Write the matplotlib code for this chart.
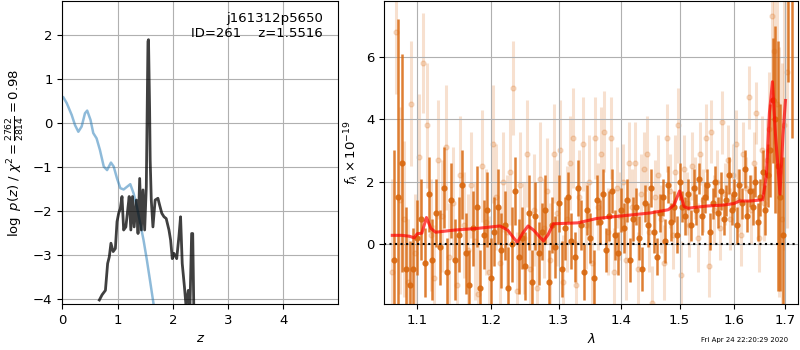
import matplotlib
matplotlib.use('Agg')
import matplotlib.pyplot as plt
from matplotlib.ticker import NullLocator

# ---- p(z) panel data ----
z_chi = [0.02, 0.08, 0.17, 0.23, 0.29, 0.35, 0.41, 0.45, 0.51, 0.56, 0.62, 0.68,
         0.75, 0.81, 0.88, 0.93, 0.99, 1.05, 1.11, 1.17, 1.23, 1.29, 1.35, 1.41,
         1.47, 1.53, 1.59, 1.65, 1.68]
chi_scaled = [0.58, 0.45, 0.18, -0.05, -0.2, -0.08, 0.22, 0.28, 0.07, -0.23, -0.35, -0.61,
              -0.99, -1.07, -0.9, -0.99, -1.26, -1.48, -1.51, -1.45, -1.39, -1.6, -1.9, -2.28,
              -2.66, -3.11, -3.6, -4.1, -4.33]

z_pz = [0.67, 0.72, 0.78, 0.82, 0.85, 0.88, 0.92, 0.96, 0.99, 1.02, 1.05, 1.08,
        1.11, 1.15, 1.19, 1.21, 1.24, 1.27, 1.30, 1.34, 1.37, 1.40, 1.43, 1.46,
        1.49, 1.52, 1.55, 1.56, 1.58, 1.59, 1.61, 1.64, 1.68, 1.73, 1.76, 1.80,
        1.84, 1.88, 1.93, 1.96, 1.99, 2.02, 2.07, 2.11, 2.14, 2.17, 2.21, 2.24,
        2.28, 2.31, 2.34, 2.36, 2.38]
log_pz = [-4.02, -3.9, -3.8, -3.19, -3.04, -2.73, -2.92, -2.85, -2.24, -2.05, -1.94, -1.67,
          -2.43, -2.36, -1.9, -1.67, -2.43, -1.67, -2.36, -1.75, -2.51, -1.26, -2.43, -1.52,
          -2.43, -1.45, 1.85, 1.89, 0.3, -0.84, -1.75, -2.36, -1.75, -1.71, -1.86, -2.05,
          -2.13, -2.17, -2.43, -2.66, -3.08, -2.96, -3.08, -2.58, -2.13, -3.19, -3.72, -4.17,
          -3.8, -4.17, -2.51, -2.51, -4.25]

# ---- spectrum panel data (wavelength in micron, flux in 1e-19) ----
dark_wave = [1.070, 1.075, 1.080, 1.085, 1.090, 1.095, 1.100, 1.105, 1.110, 1.115,
             1.120, 1.125, 1.130, 1.135, 1.140, 1.145, 1.150, 1.155, 1.160, 1.165,
             1.170, 1.175, 1.180, 1.185, 1.190, 1.195, 1.200, 1.205, 1.210, 1.215,
             1.220, 1.225, 1.230, 1.235, 1.240, 1.245, 1.250, 1.255, 1.260, 1.265,
             1.270, 1.275, 1.280, 1.285, 1.290, 1.295, 1.300, 1.305, 1.310, 1.315,
             1.320, 1.325, 1.330, 1.335, 1.340, 1.345, 1.350, 1.355, 1.360, 1.365,
             1.370, 1.375, 1.380, 1.385, 1.390, 1.395, 1.400, 1.405, 1.410, 1.415,
             1.420, 1.425, 1.430, 1.435, 1.440, 1.445, 1.450, 1.455, 1.460, 1.465,
             1.470, 1.475, 1.480, 1.485, 1.490, 1.495, 1.500, 1.505, 1.510, 1.515,
             1.520, 1.525, 1.530, 1.535, 1.540, 1.545, 1.550, 1.555, 1.560, 1.565,
             1.570, 1.575, 1.580, 1.585, 1.590, 1.595, 1.600, 1.605, 1.610, 1.615,
             1.620, 1.625, 1.630, 1.635, 1.640, 1.645, 1.650, 1.655, 1.660, 1.665,
             1.670, 1.675, 1.680, 1.685, 1.690, 1.695, 1.705, 1.713]
dark_flux = [-0.5, 1.5, 2.6, -0.8, -1.3, -0.8, 0.2, 0.8, -0.6, 1.6,
             -0.5, 1.0, -0.1, 1.8, -0.9, 1.4, -0.5, 0.3, 1.9, -0.3,
             -1.3, 0.5, 1.2, -1.4, 0.3, 1.1, -1.1, 0.4, 1.2, -0.2,
             0.6, -1.4, 0.0, 1.7, -0.4, 0.2, -0.7, 1.0, -1.2, 0.9,
             -0.3, 0.4, 1.1, -1.2, 0.6, -0.1, 1.3, -0.8, 0.5, 1.5,
             0.1, -0.4, 1.8, 0.6, -0.9, 1.1, 0.2, -1.1, 1.4, 0.7,
             1.6, -0.2, 0.9, 1.7, 0.3, -0.3, 1.1, 0.5, 1.4, -0.5,
             0.8, 1.2, 0.2, -0.8, 1.3, 0.6, 1.8, 0.4, -0.4, 1.0,
             1.5, 0.1, 1.9, 0.7, 1.2, 0.3, 2.0, 1.2, 0.9, 1.6,
             0.6, 1.8, 1.1, 2.1, 0.9, 1.5, 1.9, 0.4, 1.3, 2.0,
             1.0, 1.7, 0.8, 1.4, 2.2, 1.1, 1.6, 0.6, 1.9, 1.3,
             2.4, 0.9, 1.7, 1.2, 2.0, 0.7, 1.5, 2.3, 1.1, 2.2,
             3.0, 4.6, 4.0, 2.5, 1.5, 0.3, 9.0, 9.5]
dark_err = [3.5, 5.7, 3.5, 2.0, 1.4, 1.3, 1.2, 1.3, 1.1, 1.2,
            1.3, 1.1, 1.2, 1.3, 1.1, 1.2, 1.3, 1.2, 1.1, 1.3,
            1.1, 1.2, 1.3, 1.2, 1.1, 1.2, 1.3, 1.1, 1.2, 1.2,
            1.1, 1.3, 1.2, 1.1, 1.2, 1.0, 1.1, 1.2, 1.0, 1.1,
            1.0, 0.9, 1.1, 1.0, 0.9, 1.0, 0.9, 0.9, 1.0, 0.8,
            0.9, 0.8, 0.9, 0.8, 0.9, 0.8, 0.8, 0.9, 0.8, 0.7,
            0.8, 0.7, 0.8, 0.7, 0.8, 0.7, 0.7, 0.8, 0.7, 0.7,
            0.7, 0.6, 0.7, 0.7, 0.6, 0.7, 0.6, 0.7, 0.6, 0.6,
            0.6, 0.7, 0.6, 0.6, 0.5, 0.6, 0.6, 0.5, 0.6, 0.5,
            0.5, 0.6, 0.5, 0.5, 0.6, 0.5, 0.5, 0.6, 0.5, 0.5,
            0.5, 0.6, 0.5, 0.5, 0.6, 0.5, 0.5, 0.6, 0.5, 0.5,
            0.6, 0.5, 0.5, 0.6, 0.5, 0.6, 0.6, 0.7, 0.8, 1.0,
            1.5, 2.0, 3.0, 4.0, 3.0, 2.5, 3.8, 6.1]

light_wave = [1.0675, 1.0725, 1.0775, 1.0825, 1.0875, 1.0925, 1.0975, 1.1025, 1.1075, 1.1125,
              1.1175, 1.1225, 1.1275, 1.1325, 1.1375, 1.1425, 1.1475, 1.1525, 1.1575, 1.1625,
              1.1675, 1.1725, 1.1775, 1.1825, 1.1875, 1.1925, 1.1975, 1.2025, 1.2075, 1.2125,
              1.2175, 1.2225, 1.2275, 1.2325, 1.2375, 1.2425, 1.2475, 1.2525, 1.2575, 1.2625,
              1.2675, 1.2725, 1.2775, 1.2825, 1.2875, 1.2925, 1.2975, 1.3025, 1.3075, 1.3125,
              1.3175, 1.3225, 1.3275, 1.3325, 1.3375, 1.3425, 1.3475, 1.3525, 1.3575, 1.3625,
              1.3675, 1.3725, 1.3775, 1.3825, 1.3875, 1.3925, 1.3975, 1.4025, 1.4075, 1.4125,
              1.4175, 1.4225, 1.4275, 1.4325, 1.4375, 1.4425, 1.4475, 1.4525, 1.4575, 1.4625,
              1.4675, 1.4725, 1.4775, 1.4825, 1.4875, 1.4925, 1.4975, 1.5025, 1.5075, 1.5125,
              1.5175, 1.5225, 1.5275, 1.5325, 1.5375, 1.5425, 1.5475, 1.5525, 1.5575, 1.5625,
              1.5675, 1.5725, 1.5775, 1.5825, 1.5875, 1.5925, 1.5975, 1.6025, 1.6075, 1.6125,
              1.6175, 1.6225, 1.6275, 1.6325, 1.6375, 1.6425, 1.6475, 1.6525, 1.6575, 1.6625,
              1.6675, 1.6725, 1.6775, 1.6825, 1.6875, 1.6925, 1.6975, 1.7025]
light_flux = [-0.9, 6.8, 1.4, 0.8, -1.2, 4.5, -0.3, 2.8, 5.8, 3.8,
              0.3, -1.1, 2.7, 0.9, 3.1, -0.4, 1.3, -1.3, 2.2, 0.6,
              -0.2, 1.9, 0.1, -1.6, 2.5, 0.7, -0.9, 3.2, 1.5, -0.6,
              2.0, 0.4, 2.3, 5.0, -1.5, 1.9, 0.2, 2.9, -0.8, 1.1,
              -1.4, 2.1, 0.5, 1.7, -0.5, 2.9, 1.0, 3.0, -1.2, 0.8,
              2.6, 3.4, -1.3, 1.5, 3.2, 0.6, 2.0, -0.6, 3.4, 1.2,
              2.9, 3.6, 0.4, 3.4, -0.9, 1.8, 0.9, 2.0, -0.5, 2.6,
              1.2, 2.6, -0.8, 1.6, 2.4, 2.9, 0.4, -1.9, 1.5, 2.2,
              0.8, -0.6, 3.4, 1.7, 0.3, 2.3, 3.8, -1.0, 2.4, 1.3,
              0.6, 2.5, 1.8, 0.2, 2.9, 1.4, 3.4, -0.7, 3.6, 1.1,
              2.0, 0.5, 3.9, 1.6, 2.7, 0.8, 2.2, 3.2, 1.4, 0.3,
              2.9, 1.8, 4.7, 1.1, 2.6, 4.2, 0.2, 3.0, 1.3, 2.7,
              3.7, 7.3, 6.2, 4.5, 2.3, 0.8, 3.8, 5.5]
light_err = [3.0, 2.0, 3.0, 2.5, 2.0, 2.0, 1.9, 2.0, 1.6, 2.0,
             1.8, 1.7, 1.9, 1.8, 2.0, 1.7, 1.8, 1.6, 1.9, 1.7,
             1.8, 1.7, 1.9, 1.6, 1.8, 1.7, 1.8, 1.9, 1.7, 1.8,
             1.6, 1.8, 1.7, 1.5, 1.9, 1.7, 1.8, 1.7, 1.6, 1.8,
             1.7, 1.8, 1.6, 1.7, 1.8, 1.6, 1.7, 1.6, 1.5, 1.7,
             1.5, 1.6, 1.4, 1.5, 1.5, 1.4, 1.5, 1.4, 1.3, 1.4,
             1.5, 1.3, 1.4, 1.3, 1.4, 1.3, 1.4, 1.2, 1.3, 1.3,
             1.2, 1.3, 1.2, 1.3, 1.2, 1.2, 1.3, 1.2, 1.2, 1.3,
             1.1, 1.2, 1.1, 1.2, 1.1, 1.2, 1.2, 1.1, 1.1, 1.0,
             1.0, 1.1, 1.0, 1.1, 1.0, 1.0, 1.1, 1.0, 1.0, 1.1,
             1.0, 1.0, 1.0, 1.0, 1.1, 1.0, 1.0, 1.1, 1.0, 1.0,
             1.0, 1.0, 1.0, 1.1, 1.0, 1.0, 1.1, 1.1, 1.2, 1.3,
             1.8, 2.5, 3.0, 3.5, 4.0, 5.0, 4.0, 5.0]

model_wave = [1.068, 1.080, 1.090, 1.096, 1.100, 1.106, 1.112, 1.118, 1.124, 1.150,
              1.180, 1.213, 1.224, 1.238, 1.246, 1.254, 1.262, 1.277, 1.284, 1.292,
              1.330, 1.360, 1.400, 1.450, 1.480, 1.490, 1.500, 1.508, 1.515, 1.550,
              1.580, 1.600, 1.610, 1.630, 1.655, 1.662, 1.668, 1.674, 1.680, 1.689,
              1.695, 1.700]
model_flux = [0.28, 0.28, 0.25, 0.2, 0.33, 0.35, 0.85, 0.5, 0.38, 0.45,
              0.5, 0.58, 0.45, 0.05, 0.35, 0.58, 0.45, 0.1, 0.3, 0.65,
              0.68, 0.82, 0.9, 1.0, 1.1, 1.25, 1.7, 1.2, 1.15, 1.22,
              1.25, 1.3, 1.38, 1.38, 1.42, 2.2, 4.2, 5.2, 3.5, 1.6,
              3.5, 4.6]

z_ticks = [0, 1, 2, 3, 4]
wave_ticks = [1.1, 1.2, 1.3, 1.4, 1.5, 1.6, 1.7]
flux_ticks = [0, 2, 4, 6]

dark_col = '#d9680f'

plt.rcParams['font.size'] = 9.5

fig = plt.figure(figsize=(8, 3.5), dpi=100)

# left: p(z)
ax = fig.add_axes([0.0779, 0.1314, 0.345, 0.866])
ax.plot(z_chi, chi_scaled, color='tab:blue', alpha=0.5, lw=1.8)
ax.plot(z_pz, log_pz, color='k', alpha=0.75, lw=2)
ax.set_xlim(0, 4.995)
ax.set_ylim(-4.11, 2.77)
ax.set_xticks(z_ticks)
ax.grid()
ax.set_xlabel('$z$')
ax.set_ylabel(r'$\log\ p(z)$ / $\chi^2=\frac{2762}{2814}=0.98$')
ax.text(0.945, 0.965, 'j161312p5650\nID=261    z=1.5516', ha='right', va='top',
        transform=ax.transAxes, fontsize=9.5)

# right: spectrum
ax2 = fig.add_axes([0.4804, 0.1314, 0.5175, 0.866])
ax2.errorbar(light_wave, light_flux, yerr=light_err, fmt='o', color=dark_col,
             alpha=0.2, markersize=3.5, elinewidth=2.2, zorder=1)
ax2.errorbar(dark_wave, dark_flux, yerr=dark_err, fmt='o', color=dark_col,
             alpha=0.85, markersize=3.5, elinewidth=1.8, zorder=2)
ax2.plot(model_wave, model_flux, color='r', alpha=0.7, lw=2.2, zorder=3)
ax2.set_xscale('log')
ax2.set_xlim(1.058, 1.726)
ax2.plot([1.058, 1.726], [0, 0], 'k:', lw=1.5, zorder=4)
ax2.set_ylim(-1.92, 7.79)
ax2.set_xticks(wave_ticks)
ax2.set_xticklabels([str(w) for w in wave_ticks])
ax2.xaxis.set_minor_locator(NullLocator())
ax2.set_yticks(flux_ticks)
ax2.grid()
ax2.set_xlabel(r'$\lambda$')
ax2.set_ylabel(r'$f_\lambda\times10^{-19}$')

fig.text(0.985, 0.029, 'Fri Apr 24 22:20:29 2020', ha='right', va='center', fontsize=5)

fig.savefig('out.png', dpi=100)
